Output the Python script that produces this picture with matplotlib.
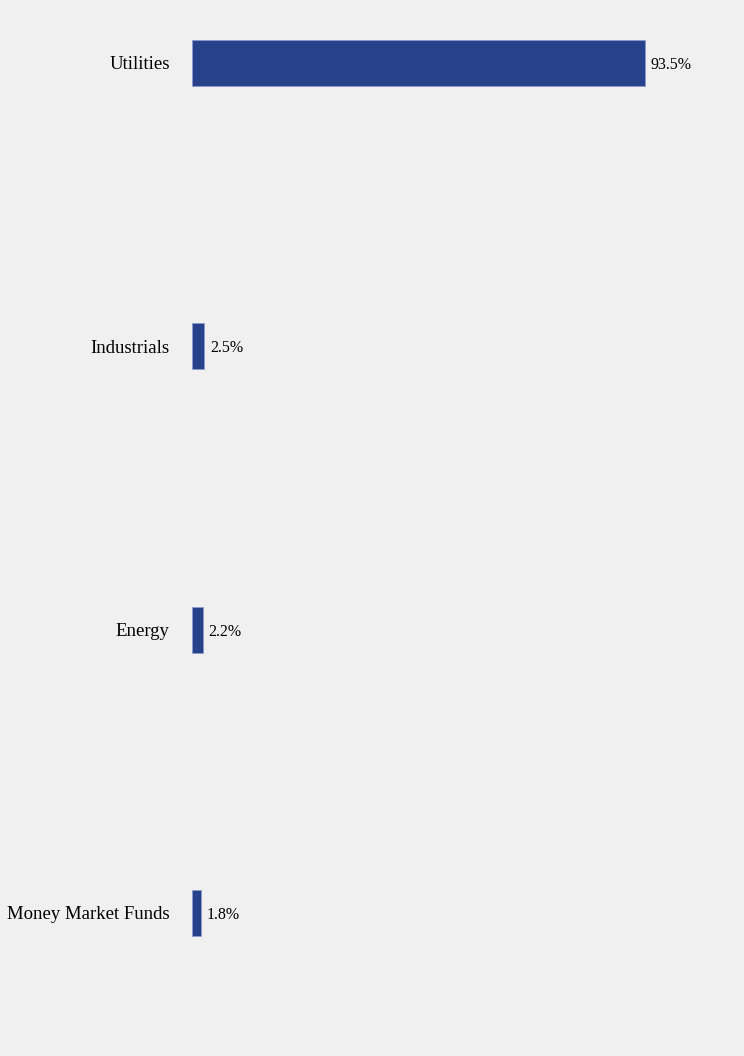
import matplotlib.pyplot as plt

sectors = ['Utilities', 'Industrials', 'Energy', 'Money Market Funds']
weights = [93.5, 2.5, 2.2, 1.8]
labels = ['93.5%', '2.5%', '2.2%', '1.8%']

plt.rcParams['font.family'] = ['Liberation Serif', 'DejaVu Serif']

fig = plt.figure(figsize=(7.44, 10.56), dpi=100, facecolor='#f0f0f0')
ax = fig.add_axes([192 / 744, 0, 484.5 / 744, 1])
ax.set_facecolor('#f0f0f0')

pos = list(range(len(sectors)))
bars = ax.barh(pos, weights, height=0.162, color='#27418b',
               edgecolor='#8a9acb', linewidth=0.6)
for b, t in zip(bars, labels):
    ax.annotate(t, (b.get_width(), b.get_y() + b.get_height() / 2),
                xytext=(4.3, 0), textcoords='offset points',
                va='center_baseline', ha='left', fontsize=11.5)

ax.set_xlim(0, 100)
ax.set_ylim(3.505, -0.222)
ax.set_yticks(pos)
ax.set_yticklabels(sectors, fontsize=13.5, va='center_baseline')
ax.tick_params(axis='y', length=0, pad=16)
ax.set_xticks([])
for s in ax.spines.values():
    s.set_visible(False)

fig.savefig('out.png', dpi=100, facecolor=fig.get_facecolor())
